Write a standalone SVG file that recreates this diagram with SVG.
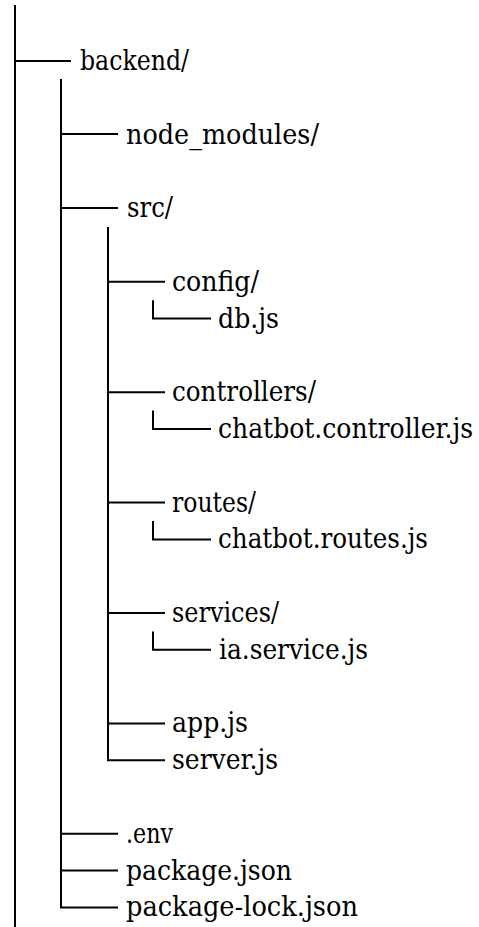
<svg xmlns="http://www.w3.org/2000/svg" width="479" height="927" viewBox="0 0 479 927">
<style>
.c line{stroke:#000;stroke-width:2;fill:none}
text{font-family:'DejaVu Serif Condensed','DejaVu Serif','Liberation Serif',serif;font-size:28px;fill:#000}
</style>
<rect width="479" height="927" fill="#fff"/>
<g id="connectors" class="c">
<line x1="15" y1="5" x2="15" y2="927"/>
<line x1="15" y1="61" x2="71" y2="61"/>
<line x1="61" y1="79" x2="61" y2="907.4"/>
<line x1="61" y1="134" x2="118" y2="134"/>
<line x1="61" y1="208" x2="118" y2="208"/>
<line x1="61" y1="833.8" x2="118" y2="833.8"/>
<line x1="61" y1="870.6" x2="118" y2="870.6"/>
<line x1="60" y1="907.4" x2="118" y2="907.4"/>
<line x1="108" y1="227" x2="108" y2="760.2"/>
<line x1="108" y1="281.8" x2="165" y2="281.8"/>
<line x1="108" y1="392.2" x2="165" y2="392.2"/>
<line x1="108" y1="502.6" x2="165" y2="502.6"/>
<line x1="108" y1="613" x2="165" y2="613"/>
<line x1="108" y1="723.4" x2="165" y2="723.4"/>
<line x1="107" y1="760.2" x2="165" y2="760.2"/>
<line x1="153" y1="300.2" x2="153" y2="318.6"/>
<line x1="152" y1="318.6" x2="211" y2="318.6"/>
<line x1="153" y1="410.6" x2="153" y2="429"/>
<line x1="152" y1="429" x2="211" y2="429"/>
<line x1="153" y1="521" x2="153" y2="539.4"/>
<line x1="152" y1="539.4" x2="211" y2="539.4"/>
<line x1="153" y1="631.4" x2="153" y2="649.8"/>
<line x1="152" y1="649.8" x2="211" y2="649.8"/>
</g>
<g id="backend"><text x="80" y="70" textLength="109" lengthAdjust="spacingAndGlyphs">backend/</text></g>
<g id="node_modules"><text x="126" y="143.6" textLength="193" lengthAdjust="spacingAndGlyphs">node_modules/</text></g>
<g id="src"><text x="127" y="217.2" textLength="46" lengthAdjust="spacingAndGlyphs">src/</text></g>
<g id="config"><text x="172" y="290.8" textLength="87" lengthAdjust="spacingAndGlyphs">config/</text></g>
<g id="db"><text x="218" y="327.6" textLength="61" lengthAdjust="spacingAndGlyphs">db.js</text></g>
<g id="controllers"><text x="172" y="401.2" textLength="144" lengthAdjust="spacingAndGlyphs">controllers/</text></g>
<g id="chatbot_controller"><text x="218" y="438" textLength="255" lengthAdjust="spacingAndGlyphs">chatbot.controller.js</text></g>
<g id="routes"><text x="172" y="511.6" textLength="84" lengthAdjust="spacingAndGlyphs">routes/</text></g>
<g id="chatbot_routes"><text x="218" y="548.4" textLength="210" lengthAdjust="spacingAndGlyphs">chatbot.routes.js</text></g>
<g id="services"><text x="172" y="622" textLength="107" lengthAdjust="spacingAndGlyphs">services/</text></g>
<g id="ia_service"><text x="219" y="658.8" textLength="149" lengthAdjust="spacingAndGlyphs">ia.service.js</text></g>
<g id="app"><text x="172" y="732.4" textLength="76" lengthAdjust="spacingAndGlyphs">app.js</text></g>
<g id="server"><text x="172" y="769.2" textLength="106" lengthAdjust="spacingAndGlyphs">server.js</text></g>
<g id="env"><text x="126" y="842.8" textLength="47" lengthAdjust="spacingAndGlyphs">.env</text></g>
<g id="package_json"><text x="126" y="879.6" textLength="166" lengthAdjust="spacingAndGlyphs">package.json</text></g>
<g id="package_lock"><text x="126" y="916.4" textLength="232" lengthAdjust="spacingAndGlyphs">package-lock.json</text></g>
</svg>
